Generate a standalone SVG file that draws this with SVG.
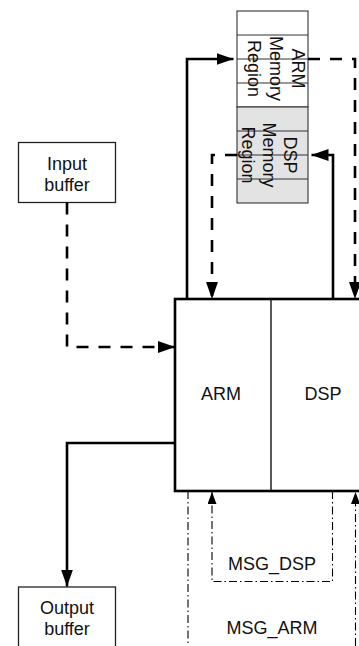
<svg xmlns="http://www.w3.org/2000/svg" width="359" height="646" viewBox="0 0 359 646">
<style>
text{font-family:"Liberation Sans",Arial,sans-serif;font-size:18px;fill:#111}
.c{text-anchor:middle}
.thick{fill:none;stroke:#000;stroke-width:2.6}
.dash{fill:none;stroke:#000;stroke-width:2.6;stroke-dasharray:12 10}
.dd{fill:none;stroke:#000;stroke-width:1.1;stroke-dasharray:8 3 1.5 3}
.mem{stroke:#333;stroke-width:1.1}
.buf{fill:#fff;stroke:#222;stroke-width:1.3}
</style>
<defs>
<marker id="ah" viewBox="0 0 17 12" refX="17" refY="6" markerWidth="17" markerHeight="12" markerUnits="userSpaceOnUse" orient="auto">
<path d="M0,0 L17,6 L0,12 Z" fill="#000"/>
</marker>
<marker id="as" viewBox="0 0 12 9" refX="12" refY="4.5" markerWidth="12" markerHeight="9" markerUnits="userSpaceOnUse" orient="auto">
<path d="M0,0 L12,4.5 L0,9 Z" fill="#000"/>
</marker>
</defs>
<rect width="359" height="646" fill="#fff"/>
<g id="memory">
<rect x="237" y="11" width="71" height="96" fill="#fff" class="mem"/>
<rect x="237" y="107" width="71" height="96" fill="#e3e3e3" class="mem"/>
<path class="mem" d="M237,35H308M237,59H308M237,83H308M237,131H308M237,155H308M237,179H308"/>
<text transform="translate(292,68.5) rotate(90)" class="c">ARM</text>
<text transform="translate(270,68.5) rotate(90)" class="c">Memory</text>
<text transform="translate(248,68.5) rotate(90)" class="c">Region</text>
<text transform="translate(284,155) rotate(90)" class="c">DSP</text>
<text transform="translate(263,155) rotate(90)" class="c">Memory</text>
<text transform="translate(242,155) rotate(90)" class="c">Region</text>
</g>
<g id="input-buffer">
<rect x="18.5" y="142.5" width="97" height="60" class="buf"/>
<text x="67" y="169.5" class="c">Input</text>
<text x="67" y="190.5" class="c">buffer</text>
</g>
<g id="output-buffer">
<rect x="18.5" y="587" width="97" height="70" class="buf"/>
<text x="67" y="613.5" class="c">Output</text>
<text x="67" y="634.5" class="c">buffer</text>
</g>
<g id="processor">
<rect x="175" y="299" width="201" height="192" fill="#fff" stroke="#000" stroke-width="2.6"/>
<line x1="271" y1="299" x2="271" y2="491" stroke="#000" stroke-width="1.3"/>
<text x="221" y="400" class="c">ARM</text>
<text x="323" y="400" class="c">DSP</text>
</g>
<g id="connectors">
<path class="thick" d="M187,299V59H233.5" marker-end="url(#ah)"/>
<path class="dash" d="M308,59H355V299" marker-end="url(#ah)"/>
<path class="thick" d="M333,299V155H311.5" marker-end="url(#ah)"/>
<path class="dash" d="M237,155H212V299" marker-end="url(#ah)"/>
<path class="dash" d="M67,202.5V347H175" marker-end="url(#ah)"/>
<path class="thick" d="M175,443H67V586.5" marker-end="url(#ah)"/>
<path class="dd" d="M332.5,491V581.5H212V492" marker-end="url(#as)"/>
<path class="dd" d="M188,491V646"/>
<path class="dd" d="M355.5,646V492" marker-end="url(#as)"/>
</g>
<g id="labels">
<text x="272" y="570" class="c">MSG_DSP</text>
<text x="272" y="634" class="c">MSG_ARM</text>
</g>
</svg>
